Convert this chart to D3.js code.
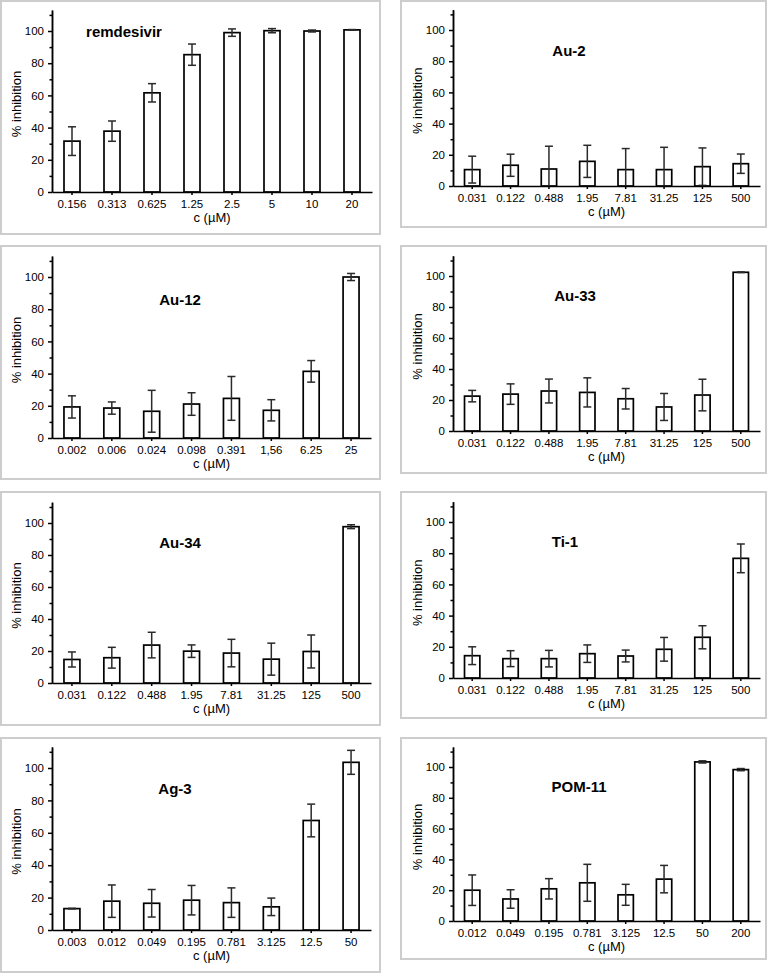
<!DOCTYPE html>
<html>
<head>
<meta charset="utf-8">
<script src="https://cdn.jsdelivr.net/npm/d3@7"></script>
<style>
  body { margin: 0; background: #fff; }
  svg { display: block; font-family: "Liberation Sans", Arial, sans-serif; }
  .axis path, .axis line { stroke: #000; stroke-width: 1.5; }
  .axis text { fill: #000; font-size: 11.5px; }
  .frame { fill: none; stroke: #cdcdcd; stroke-width: 2; }
  .bar { fill: #fff; stroke: #000; stroke-width: 1.7; }
  .err { stroke: #2a2a2a; stroke-width: 1.5; fill: none; }
  .title { font-weight: bold; font-size: 15px; fill: #000; text-anchor: middle; }
  .label { font-size: 13px; fill: #000; text-anchor: middle; }
</style>
</head>
<body>
<div id="chart"></div>
<script>
// Concentrations (x categories) and mean / sd of % inhibition per compound
const remdesivirConc = ["0.156", "0.313", "0.625", "1.25", "2.5", "5", "10", "20"];
const remdesivirMean = [31.6, 37.8, 61.6, 85.3, 99.0, 100.2, 100.0, 100.7];
const remdesivirErr = [8.9, 6.3, 5.7, 6.6, 2.3, 1.3, 0.6, 0.2];

const au2Conc = ["0.031", "0.122", "0.488", "1.95", "7.81", "31.25", "125", "500"];
const au2Mean = [10.5, 13.3, 10.9, 15.8, 10.5, 10.5, 12.4, 14.3];
const au2Err = [8.6, 7.1, 14.6, 10.3, 13.5, 14.3, 12.0, 6.2];

const au12Conc = ["0.002", "0.006", "0.024", "0.098", "0.391", "1,56", "6.25", "25"];
const au12Mean = [19.3, 18.6, 16.6, 21.1, 24.6, 17.2, 41.4, 100.0];
const au12Err = [6.9, 3.8, 13.0, 7.0, 13.6, 6.6, 6.7, 2.2];

const au33Conc = ["0.031", "0.122", "0.488", "1.95", "7.81", "31.25", "125", "500"];
const au33Mean = [22.5, 23.8, 25.8, 24.9, 20.8, 15.5, 23.2, 102.4];
const au33Err = [3.7, 6.6, 7.7, 9.4, 6.6, 8.7, 10.2, 0.2];

const au34Conc = ["0.031", "0.122", "0.488", "1.95", "7.81", "31.25", "125", "500"];
const au34Mean = [14.7, 15.8, 23.7, 19.9, 18.7, 14.9, 19.7, 97.7];
const au34Err = [4.7, 6.5, 8.0, 3.9, 8.6, 10.0, 10.3, 1.2];

const ti1Conc = ["0.031", "0.122", "0.488", "1.95", "7.81", "31.25", "125", "500"];
const ti1Mean = [14.3, 12.4, 12.4, 15.6, 14.1, 18.4, 26.1, 76.7];
const ti1Err = [5.7, 5.1, 5.3, 5.6, 3.8, 7.6, 7.4, 9.2];

const ag3Conc = ["0.003", "0.012", "0.049", "0.195", "0.781", "3.125", "12.5", "50"];
const ag3Mean = [13.2, 17.8, 16.5, 18.4, 16.9, 14.3, 67.6, 103.5];
const ag3Err = [0.2, 10.0, 8.5, 9.1, 9.1, 5.4, 10.1, 7.4];

const pom11Conc = ["0.012", "0.049", "0.195", "0.781", "3.125", "12.5", "50", "200"];
const pom11Mean = [20.0, 14.3, 20.9, 24.8, 17.0, 27.2, 103.3, 98.3];
const pom11Err = [9.9, 6.0, 6.6, 12.0, 6.8, 8.9, 0.7, 0.7];

const yMajorTicks = [0, 20, 40, 60, 80, 100];
const yMinorTicks = [10, 30, 50, 70, 90, 110];

// Compounds in reading order
var compounds = [
    { name: "remdesivir", conc: remdesivirConc, mean: remdesivirMean, err: remdesivirErr },
    { name: "Au-2", conc: au2Conc, mean: au2Mean, err: au2Err },
    { name: "Au-12", conc: au12Conc, mean: au12Mean, err: au12Err },
    { name: "Au-33", conc: au33Conc, mean: au33Mean, err: au33Err },
    { name: "Au-34", conc: au34Conc, mean: au34Mean, err: au34Err },
    { name: "Ti-1", conc: ti1Conc, mean: ti1Mean, err: ti1Err },
    { name: "Ag-3", conc: ag3Conc, mean: ag3Mean, err: ag3Err },
    { name: "POM-11", conc: pom11Conc, mean: pom11Mean, err: pom11Err }
];

// Panel boxes: frame [x, y, w, h], plot edges (top = pixel of 100 %), title anchor
var layout = [
    { frame: [1, 1, 379, 233], left: 52, right: 372, bottom: 192, top: 31, tx: 124, ty: 37 },
    { frame: [401, 1, 365, 226], left: 453, right: 760, bottom: 186, top: 30, tx: 569, ty: 56 },
    { frame: [1, 246, 379, 233], left: 52, right: 371, bottom: 438, top: 277, tx: 180, ty: 305 },
    { frame: [401, 246, 365, 227], left: 453, right: 760, bottom: 431, top: 276, tx: 575, ty: 301 },
    { frame: [1, 492, 379, 233], left: 52, right: 371, bottom: 683, top: 523, tx: 180, ty: 548 },
    { frame: [401, 492, 365, 226], left: 453, right: 760, bottom: 678, top: 522, tx: 565, ty: 547 },
    { frame: [1, 738, 379, 234], left: 52, right: 371, bottom: 930, top: 768, tx: 175, ty: 794 },
    { frame: [401, 738, 365, 221], left: 453, right: 760, bottom: 921, top: 767, tx: 579, ty: 792 }
];

var yTopValue = 113;
var capHalf = 4;

var svg = d3.select("#chart").append("svg")
    .attr("width", 769)
    .attr("height", 973);

compounds.forEach(function(c, i) {
    var L = layout[i];
    var g = svg.append("g");

    g.append("rect")
        .attr("class", "frame")
        .attr("x", L.frame[0]).attr("y", L.frame[1])
        .attr("width", L.frame[2]).attr("height", L.frame[3]);

    // Scales
    var k = (L.bottom - L.top) / 100;
    var y = d3.scaleLinear().domain([0, yTopValue]).range([L.bottom, L.bottom - yTopValue * k]);
    var x = d3.scaleBand().domain(c.conc).range([L.left, L.right])
        .paddingInner(0.6).paddingOuter(0.3);

    var rows = c.conc.map(function(d, j) {
        return { conc: d, mean: c.mean[j], err: c.err[j] };
    });

    // Bars
    g.selectAll(".bar")
        .data(rows).enter()
        .append("rect")
        .attr("class", "bar")
        .attr("x", function(d) { return x(d.conc); })
        .attr("y", function(d) { return y(d.mean); })
        .attr("width", x.bandwidth())
        .attr("height", function(d) { return y(0) - y(d.mean); });

    // Error bars
    var eb = g.selectAll(".eb").data(rows).enter().append("g").attr("class", "err");
    var cx = function(d) { return x(d.conc) + x.bandwidth() / 2; };
    var hi = function(d) { return y(d.mean + d.err); };
    var lo = function(d) { return y(Math.max(0, d.mean - d.err)); };
    eb.append("line")
        .attr("x1", cx).attr("x2", cx)
        .attr("y1", hi).attr("y2", lo);
    eb.append("line")
        .attr("x1", function(d) { return cx(d) - capHalf; })
        .attr("x2", function(d) { return cx(d) + capHalf; })
        .attr("y1", hi).attr("y2", hi);
    eb.append("line")
        .attr("x1", function(d) { return cx(d) - capHalf; })
        .attr("x2", function(d) { return cx(d) + capHalf; })
        .attr("y1", lo).attr("y2", lo);

    // Axes
    g.append("g")
        .attr("class", "axis")
        .attr("transform", "translate(" + L.left + ",0)")
        .call(d3.axisLeft(y).tickValues(yMinorTicks).tickSize(2.5).tickSizeOuter(0).tickFormat(""));
    g.append("g")
        .attr("class", "axis")
        .attr("transform", "translate(" + L.left + ",0)")
        .call(d3.axisLeft(y).tickValues(yMajorTicks).tickSize(4).tickSizeOuter(0).tickPadding(4));

    g.append("g")
        .attr("class", "axis")
        .attr("transform", "translate(0," + L.bottom + ")")
        .call(d3.axisBottom(x).tickSize(3).tickSizeOuter(0).tickPadding(5));

    // Labels
    g.append("text")
        .attr("class", "title")
        .attr("x", L.tx).attr("y", L.ty)
        .text(c.name);

    g.append("text")
        .attr("class", "label")
        .attr("x", (L.left + L.right) / 2)
        .attr("y", L.bottom + 30)
        .text("c (\u00b5M)");

    var midY = (y(0) + y(yTopValue)) / 2 + 3;
    g.append("text")
        .attr("class", "label")
        .attr("transform", "translate(" + (L.left - 31) + "," + midY + ") rotate(-90)")
        .text("% inhibition");
});
</script>
</body>
</html>
